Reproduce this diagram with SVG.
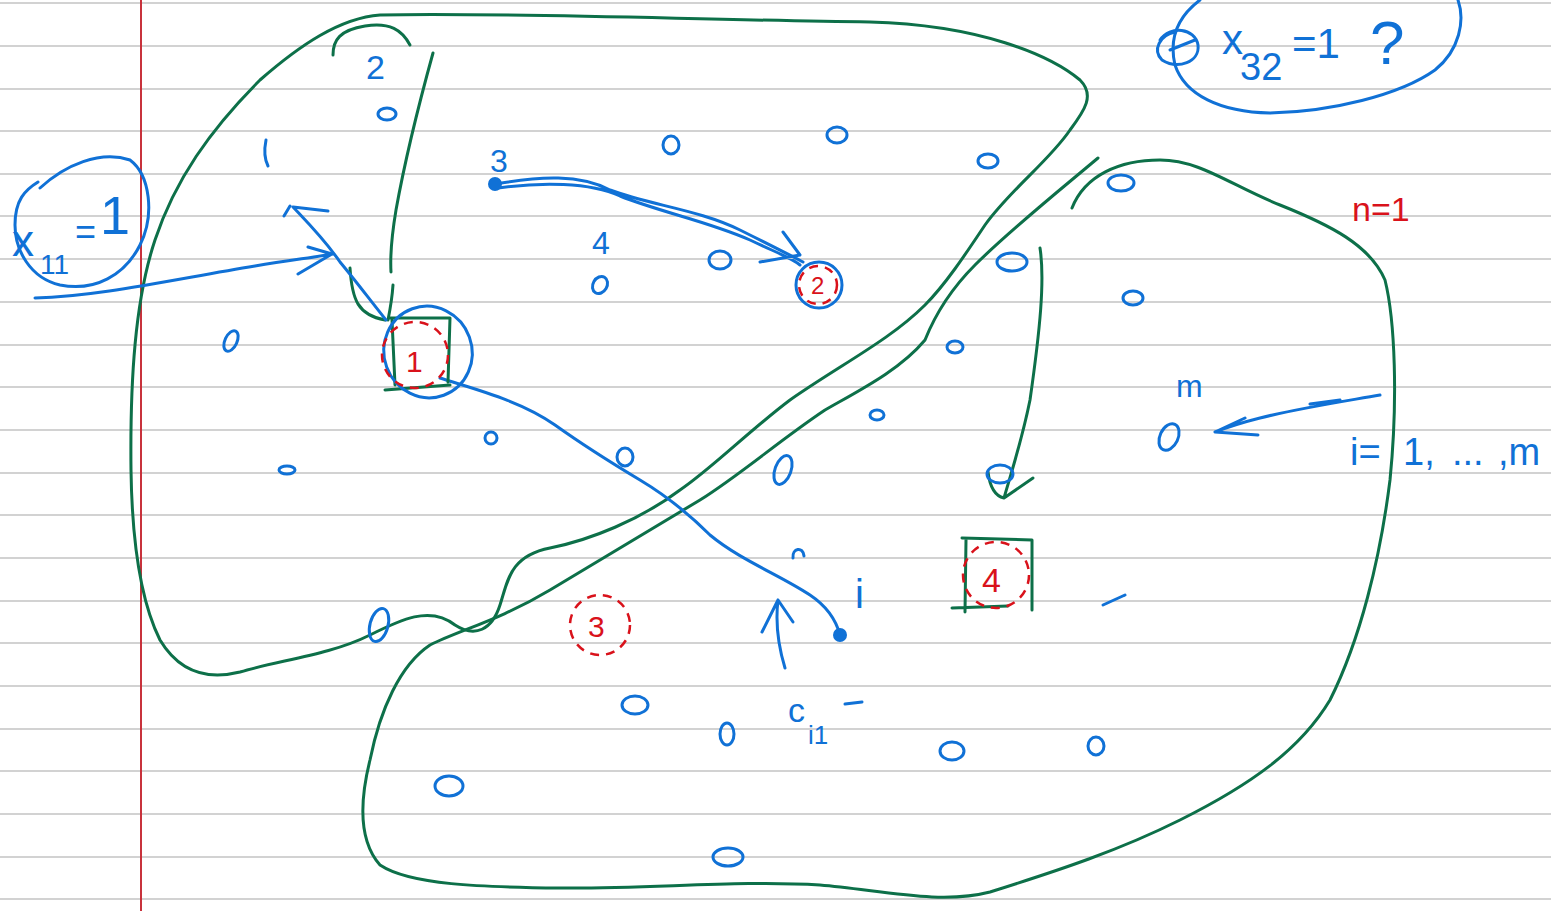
<svg xmlns="http://www.w3.org/2000/svg" width="1551" height="911" viewBox="0 0 1551 911">
<style>
.rule{stroke:#d2d2d2;stroke-width:2}
.g{fill:none;stroke:#0d7049;stroke-width:3;stroke-linecap:round;stroke-linejoin:round}
.b{fill:none;stroke:#1071d6;stroke-width:3;stroke-linecap:round;stroke-linejoin:round}
.rd{fill:none;stroke:#d9121b;stroke-width:2.5;stroke-dasharray:9 7}
.bt{fill:#1071d6;font-family:'Liberation Sans',Arial,sans-serif}
.rt{fill:#d9121b;font-family:'Liberation Sans',Arial,sans-serif}
.pt{fill:none;stroke:#1071d6;stroke-width:3}
</style>
<rect width="1551" height="911" fill="#ffffff"/>
<g id="paper">
<line class="rule" x1="0" y1="3" x2="1551" y2="3"/>
<line class="rule" x1="0" y1="46" x2="1551" y2="46"/>
<line class="rule" x1="0" y1="89" x2="1551" y2="89"/>
<line class="rule" x1="0" y1="131" x2="1551" y2="131"/>
<line class="rule" x1="0" y1="174" x2="1551" y2="174"/>
<line class="rule" x1="0" y1="216" x2="1551" y2="216"/>
<line class="rule" x1="0" y1="259" x2="1551" y2="259"/>
<line class="rule" x1="0" y1="302" x2="1551" y2="302"/>
<line class="rule" x1="0" y1="345" x2="1551" y2="345"/>
<line class="rule" x1="0" y1="387" x2="1551" y2="387"/>
<line class="rule" x1="0" y1="430" x2="1551" y2="430"/>
<line class="rule" x1="0" y1="473" x2="1551" y2="473"/>
<line class="rule" x1="0" y1="515" x2="1551" y2="515"/>
<line class="rule" x1="0" y1="558" x2="1551" y2="558"/>
<line class="rule" x1="0" y1="601" x2="1551" y2="601"/>
<line class="rule" x1="0" y1="643" x2="1551" y2="643"/>
<line class="rule" x1="0" y1="686" x2="1551" y2="686"/>
<line class="rule" x1="0" y1="729" x2="1551" y2="729"/>
<line class="rule" x1="0" y1="771" x2="1551" y2="771"/>
<line class="rule" x1="0" y1="814" x2="1551" y2="814"/>
<line class="rule" x1="0" y1="857" x2="1551" y2="857"/>
<line class="rule" x1="0" y1="899" x2="1551" y2="899"/>
<line x1="141" y1="0" x2="141" y2="911" stroke="#c8323c" stroke-width="2"/>
</g>
<g id="clusters">
<path class="g" d="M380,15 C500,12 700,20 870,22 C980,25 1050,55 1080,80 C1095,95 1085,110 1070,130 C1050,160 1010,190 985,225 C965,255 945,285 925,305 C890,340 840,365 790,400 C750,430 710,470 680,490 C640,520 590,540 550,548 C510,556 508,580 500,605 C492,630 475,638 455,625 C430,605 400,620 370,635 C330,655 280,660 240,672 C200,682 175,665 160,640 C140,600 132,540 131,470 C130,380 135,300 155,240 C175,180 210,130 260,80 C300,45 340,18 380,15"/>
<path class="g" d="M333,55 C333,40 340,30 365,26 C390,22 402,30 410,45"/>
<path class="g" d="M1098,158 C1060,190 1010,230 975,265 C950,290 935,315 925,340 C900,370 860,390 825,410 C780,440 740,475 700,500 C650,530 600,560 550,590 C500,620 460,630 430,645 C400,665 380,710 370,760 C360,800 358,840 380,865 C410,885 480,887 560,888 C650,889 740,880 820,885 C880,890 940,905 990,892 C1060,870 1120,850 1180,820 C1250,785 1300,750 1330,700 C1360,640 1380,560 1390,480 C1398,400 1395,320 1385,280 C1370,245 1330,225 1280,205 C1230,185 1200,160 1160,160 C1120,160 1085,175 1072,208"/>
</g>
<g id="connectors">
<path class="g" d="M433,53 C420,100 405,160 396,210 C391,240 390,255 391,272"/>
<path class="g" d="M350,268 C352,300 358,315 385,320 M393,285 C392,300 390,310 388,320"/>
<path class="g" d="M1040,248 C1045,280 1040,330 1030,400 C1022,440 1012,470 1004,498 M988,472 C990,488 995,496 1004,498 L1033,478"/>
<path class="b" d="M35,298 C100,296 170,280 255,266 C290,260 310,258 333,254 M308,247 L332,254 L298,274"/>
<path class="b" d="M386,320 C370,300 355,280 340,262 C325,240 310,225 293,207 M328,211 L293,207 M284,216 L290,206"/>
<path class="b" d="M496,184 C540,176 580,174 610,190 C650,205 700,210 740,230 C770,245 790,255 803,262 M498,188 C540,182 590,182 620,196 C660,212 710,222 750,240 C775,252 792,258 800,265 M783,232 L800,255 L760,262"/>
<path class="b" d="M440,378 C470,388 520,400 555,425 C590,450 610,462 640,480 C670,498 690,515 710,535 C740,560 780,575 810,595 C828,607 836,620 840,635"/>
<path class="b" d="M785,668 C778,645 775,625 778,600 M762,632 L778,600 L793,622"/>
<path class="b" d="M1380,395 C1340,402 1300,408 1260,418 C1240,423 1228,427 1215,432 M1310,404 L1340,400 M1245,418 L1215,432 L1258,435"/>
</g>
<g id="x11-label">
<path class="b" d="M40,188 C65,165 100,150 130,160 C150,175 155,215 140,245 C125,275 95,292 60,285 C30,278 15,250 15,225 C15,200 25,190 38,182"/>
<text class="bt" x="12" y="256" font-size="44">x</text>
<text class="bt" x="40" y="274" font-size="28">11</text>
<text class="bt" x="75" y="244" font-size="36">=</text>
<text class="bt" x="100" y="234" font-size="54">1</text>
</g>
<g id="x32-label">
<path class="b" d="M1200,0 C1180,15 1168,35 1175,65 C1185,95 1220,112 1270,113 C1330,112 1400,95 1435,70 C1460,50 1465,20 1458,0"/>
<path class="b" d="M1160,40 C1170,25 1195,28 1198,45 C1200,62 1178,70 1162,60 C1152,50 1160,35 1175,32 M1170,50 L1195,40"/>
<text class="bt" x="1222" y="54" font-size="42">x</text>
<text class="bt" x="1240" y="80" font-size="38">32</text>
<text class="bt" x="1292" y="58" font-size="42">=1</text>
<text class="bt" x="1370" y="64" font-size="62">?</text>
</g>
<g id="node-1">
<path class="g" d="M390,318 L450,318 L448,382 M392,320 L395,385 M385,390 L450,385"/>
<ellipse class="pt" cx="428" cy="352" rx="44" ry="46" transform="rotate(-20 428 352)"/>
<circle class="rd" cx="415" cy="355" r="33"/>
<text class="rt" x="406" y="372" font-size="30">1</text>
</g>
<g id="node-2">
<circle class="pt" cx="819" cy="285" r="23"/>
<circle class="rd" cx="818" cy="285" r="19"/>
<text class="rt" x="811" y="294" font-size="24">2</text>
</g>
<g id="node-3">
<circle class="rd" cx="600" cy="625" r="30"/>
<text class="rt" x="588" y="637" font-size="30">3</text>
</g>
<g id="node-4">
<path class="g" d="M962,538 L1032,540 L1032,610 M966,540 L965,612 M952,608 L1008,606"/>
<circle class="rd" cx="996" cy="575" r="33"/>
<text class="rt" x="982" y="592" font-size="34">4</text>
</g>
<g id="node-s3">
<circle cx="495" cy="184" r="7" fill="#1071d6"/>
<text class="bt" x="490" y="172" font-size="32">3</text>
</g>
<g id="node-i">
<circle cx="840" cy="635" r="7" fill="#1071d6"/>
<text class="bt" x="855" y="608" font-size="40">i</text>
<text class="bt" x="788" y="722" font-size="34">c</text>
<text class="bt" x="808" y="744" font-size="26">i1</text>
<path class="b" d="M845,704 L862,702"/>
</g>
<g id="points">
<ellipse class="pt" cx="387" cy="114" rx="9" ry="6"/>
<ellipse class="pt" cx="671" cy="145" rx="8" ry="9"/>
<ellipse class="pt" cx="837" cy="135" rx="10" ry="8"/>
<ellipse class="pt" cx="988" cy="161" rx="10" ry="7"/>
<ellipse class="pt" cx="1121" cy="183" rx="13" ry="8"/>
<ellipse class="pt" cx="720" cy="260" rx="11" ry="9"/>
<ellipse class="pt" cx="600" cy="285" rx="7" ry="9" transform="rotate(30 600 285)"/>
<ellipse class="pt" cx="1012" cy="262" rx="15" ry="9"/>
<ellipse class="pt" cx="1133" cy="298" rx="10" ry="7"/>
<ellipse class="pt" cx="955" cy="347" rx="8" ry="6"/>
<ellipse class="pt" cx="877" cy="415" rx="7" ry="5"/>
<ellipse class="pt" cx="231" cy="341" rx="6" ry="11" transform="rotate(25 231 341)"/>
<ellipse class="pt" cx="287" cy="470" rx="8" ry="4"/>
<ellipse class="pt" cx="491" cy="438" rx="6" ry="6"/>
<ellipse class="pt" cx="625" cy="457" rx="8" ry="9"/>
<ellipse class="pt" cx="783" cy="470" rx="8" ry="15" transform="rotate(20 783 470)"/>
<ellipse class="pt" cx="1000" cy="474" rx="13" ry="9"/>
<ellipse class="pt" cx="1169" cy="437" rx="9" ry="14" transform="rotate(25 1169 437)"/>
<path class="b" d="M793,558 C792,548 803,546 804,556"/>
<path class="b" d="M1103,605 L1125,595"/>
<ellipse class="pt" cx="379" cy="625" rx="9" ry="17" transform="rotate(15 379 625)"/>
<ellipse class="pt" cx="635" cy="705" rx="13" ry="9"/>
<ellipse class="pt" cx="727" cy="734" rx="7" ry="11"/>
<ellipse class="pt" cx="952" cy="751" rx="12" ry="9"/>
<ellipse class="pt" cx="1096" cy="746" rx="8" ry="9"/>
<ellipse class="pt" cx="449" cy="786" rx="14" ry="10"/>
<ellipse class="pt" cx="728" cy="857" rx="15" ry="9"/>
</g>
<g id="labels">
<path class="b" d="M266,140 C264,150 265,160 268,166"/>
<text class="bt" x="366" y="79" font-size="34">2</text>
<text class="bt" x="592" y="254" font-size="32">4</text>
<text class="bt" x="1176" y="397" font-size="32">m</text>
<text class="bt" font-size="38" y="465"><tspan x="1350">i=</tspan><tspan x="1403">1,</tspan><tspan x="1452">...</tspan><tspan x="1498">,m</tspan></text>
<text class="rt" x="1352" y="221" font-size="34">n=1</text>
</g>
</svg>
